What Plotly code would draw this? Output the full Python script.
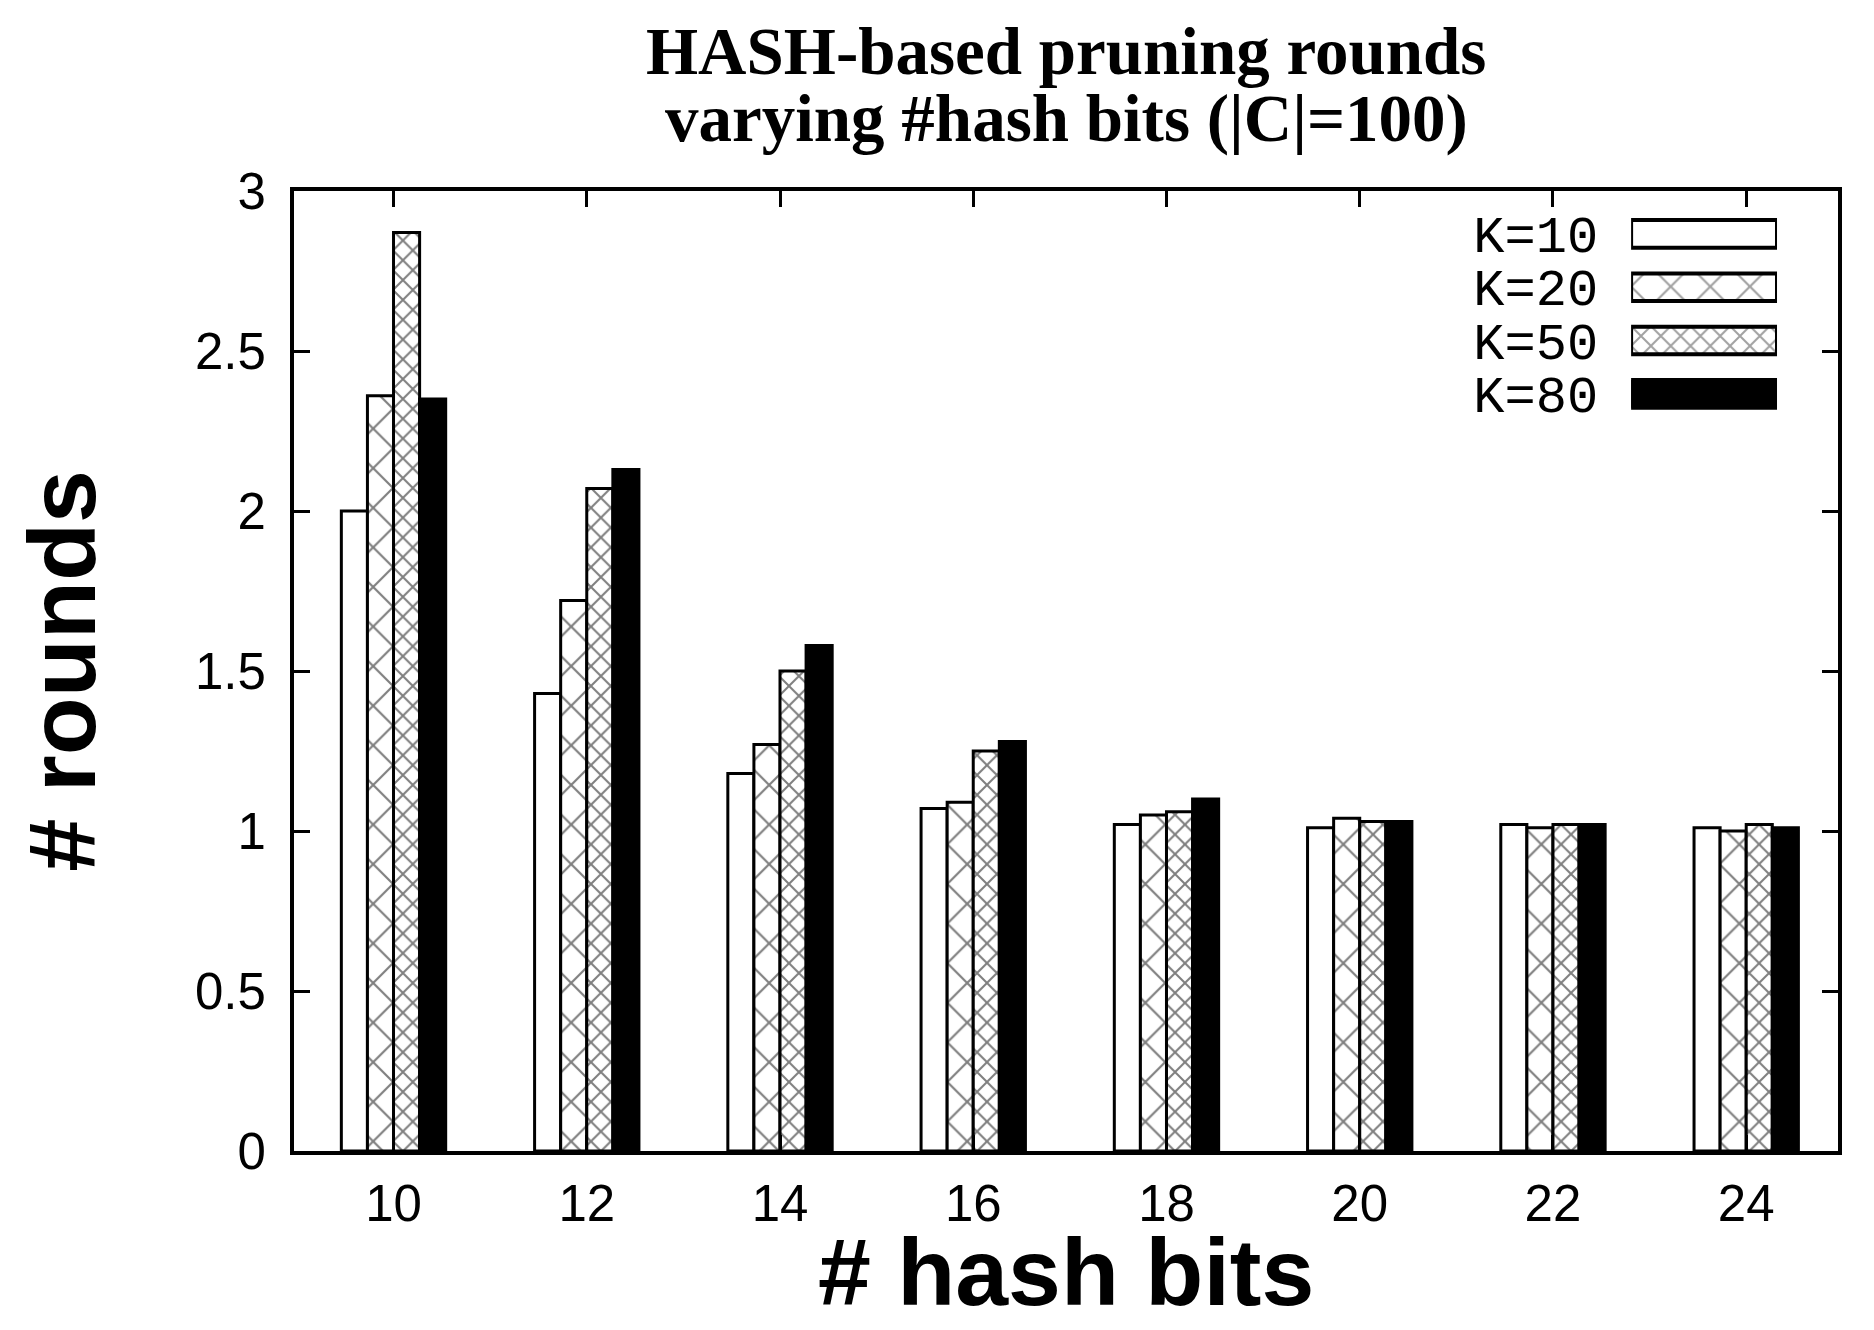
import plotly.graph_objects as go

# data
hash_bits = [10, 12, 14, 16, 18, 20, 22, 24]
k10 = [2.00, 1.43, 1.18, 1.07, 1.02, 1.01, 1.02, 1.01]
k20 = [2.36, 1.72, 1.27, 1.09, 1.05, 1.04, 1.01, 1.00]
k50 = [2.87, 2.07, 1.50, 1.25, 1.06, 1.03, 1.02, 1.02]
k80 = [2.35, 2.13, 1.58, 1.28, 1.10, 1.03, 1.02, 1.01]

series_names = ['K=10', 'K=20', 'K=50', 'K=80']
series_vals = [k10, k20, k50, k80]
y_ticks = [0, 0.5, 1, 1.5, 2, 2.5, 3]

# gnuplot-like fill styles: empty, wide crosshatch, tight crosshatch, solid
fill_color = ['white', 'white', 'white', 'black']
hatch_shape = ['', 'x', 'x', '']
hatch_size = [28, 28, 14, 10]
hatch_solid = [0.2, 0.15, 0.27, 0.2]

sans = 'Liberation Sans, Arial, sans-serif'

fig = go.Figure()

for name, vals, col, shp, sz, sol in zip(series_names, series_vals, fill_color, hatch_shape, hatch_size, hatch_solid):
    fig.add_trace(go.Bar(
        x=hash_bits, y=vals, name=name,
        marker=dict(color=col, line=dict(color='black', width=3),
                    pattern=dict(shape=shp, size=sz, solidity=sol, fgcolor='black', bgcolor=col)),
        showlegend=False))

# legend key drawn as a tiny inset bar chart (label left, sample right, like gnuplot)
key_len = [1, 1, 1, 1]
fig.add_trace(go.Bar(
    x=key_len, y=series_names, orientation='h', xaxis='x2', yaxis='y2',
    width=0.52,
    marker=dict(color=fill_color, line=dict(color='black', width=4),
                pattern=dict(shape=hatch_shape, size=hatch_size, solidity=hatch_solid,
                             fgcolor='black', bgcolor=fill_color)),
    showlegend=False, hoverinfo='skip'))

axis_common = dict(showline=True, linecolor='black', linewidth=4, mirror='ticks',
                   ticks='inside', ticklen=16, tickwidth=3, tickcolor='black',
                   showgrid=False, zeroline=False,
                   tickfont=dict(family=sans, size=51, color='black'))

# page body has an 8px margin, so the figure is a bit smaller than the window
fig.update_layout(
    width=1866, height=1322,
    margin=dict(l=286, r=36, t=183, b=179),
    paper_bgcolor='white', plot_bgcolor='white',
    barmode='group', bargap=0.46, bargroupgap=0,
    showlegend=False,
    xaxis=dict(range=[8.97, 24.95], tickvals=hash_bits, ticklabelstandoff=5, **axis_common),
    yaxis=dict(range=[0, 3], tickvals=y_ticks, ticklabelstandoff=14, **axis_common),
    xaxis2=dict(domain=[0.866, 0.9605], range=[0, 1], anchor='y2', visible=False, fixedrange=True),
    yaxis2=dict(domain=[0.761, 0.983], anchor='x2', categoryorder='array',
                categoryarray=series_names, autorange='reversed',
                tickmode='array', tickvals=series_names,
                showline=False, showgrid=False, zeroline=False, ticks='',
                ticklabelstandoff=32,
                tickfont=dict(family='Liberation Mono, Courier New, monospace', size=52, color='black')),
)

# two-line title and axis titles as annotations for tight line spacing
serif_bold = dict(family='Liberation Serif, Times New Roman, serif', size=67, color='black')
fig.add_annotation(text='<b>HASH-based pruning rounds</b>', x=0.5, y=1.146, xref='paper', yref='paper',
                   showarrow=False, xanchor='center', yanchor='middle', font=serif_bold)
fig.add_annotation(text='<b>varying #hash bits (|C|=100)</b>', x=0.5, y=1.076, xref='paper', yref='paper',
                   showarrow=False, xanchor='center', yanchor='middle', font=serif_bold)

fig.add_annotation(text='<b># hash bits</b>', x=0.5, y=-0.126, xref='paper', yref='paper',
                   showarrow=False, xanchor='center', yanchor='middle',
                   font=dict(family=sans, size=95, color='black'))
fig.add_annotation(text='<b># rounds</b>', x=-0.150, y=0.5, xref='paper', yref='paper',
                   showarrow=False, xanchor='center', yanchor='middle', textangle=-90,
                   font=dict(family=sans, size=95, color='black'))

fig.write_html('out.html')
